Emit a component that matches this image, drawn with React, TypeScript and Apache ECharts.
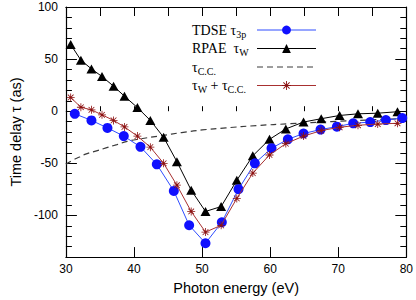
import React, { useEffect, useRef } from "react";
import * as echarts from "echarts";

// Photon energies (eV) for RPAE tau_W and tau_W + tau_CC
const energyW = [30.7, 32.2, 33.75, 35.3, 37.0, 38.6, 40.5, 42.4, 44.35, 46.3, 48.4, 50.5, 52.8, 55.1, 57.45, 59.9, 62.3, 64.9, 67.5, 70.2, 72.9, 75.8, 78.7];
const rpaeTauW = [64, 49, 40.6, 33.3, 24, 14.4, 3.5, -8.8, -25, -48.4, -75.8, -96.2, -91.5, -66.3, -42.8, -27, -17, -10.4, -7.2, -4.1, -2.5, -1.9, -0.5];
const tauWplusCC = [13.2, 3.8, 1.3, -3.5, -8.8, -15.1, -23.9, -34.5, -50, -71, -96.2, -116, -109.5, -83.7, -59.4, -42, -31.1, -23.9, -18.6, -15.4, -13.5, -12.3, -11.6];

// Photon energies (eV) for TDSE tau_3p
const energyTDSE = [31.3, 33.75, 36.1, 38.5, 40.95, 43.35, 45.85, 48.1, 50.5, 52.9, 55.35, 57.75, 60.2, 62.6, 64.9, 67.4, 69.8, 72.2, 74.7, 77.0, 79.4];
const tdseTau3p = [-2.5, -8.8, -16, -23.9, -34.2, -51, -76.5, -109.4, -126.7, -106.6, -74.8, -50, -35.5, -27, -21.4, -17.6, -14.8, -11.6, -10.4, -8.5, -6.6];

// tau_CC curve samples
const energyCC = [30, 31, 32, 33, 34.5, 36, 37.5, 39, 41, 44, 47, 50, 53.5, 58, 63, 69, 74, 80];
const tauCC = [-51, -47, -44, -41, -38, -35, -32, -29, -26.5, -23.5, -20.5, -18, -16, -13.8, -12, -10, -8.5, -7];

const yMajorTicks = [-100, -50, 0, 50, 100];
const seriesNames = ["TDSE", "RPAE", "CC", "WCC"];

const zip = (xs: number[], ys: number[]) => xs.map((x, i) => [x, ys[i]]);

const starPath =
  "path://M-0.5,-5L0.5,-5L0.5,5L-0.5,5Z M-5,-0.5L5,-0.5L5,0.5L-5,0.5Z M-3.9,-3.2L-3.2,-3.9L3.9,3.2L3.2,3.9Z M3.2,-3.9L3.9,-3.2L-3.2,3.9L-3.9,3.2Z";

export default function App() {
  const ref = useRef<HTMLDivElement>(null);
  useEffect(() => {
    if (!ref.current) return;
    const chart = echarts.init(ref.current, undefined, { renderer: "svg" });
    const sans = "Liberation Sans";
    const serif = "Liberation Serif";
    const axisBase = {
      type: "value" as const,
      splitLine: { show: false },
      axisLine: { show: true, onZero: false, lineStyle: { color: "#000", width: 1.2 } },
    };
    chart.setOption({
      animation: false,
      backgroundColor: "#fff",
      grid: { left: 57, right: 8, top: 7, bottom: 38 },
      legend: {
        left: 187,
        top: 18,
        orient: "vertical",
        align: "right",
        itemWidth: 59,
        itemHeight: 11,
        itemGap: 2.5,
        lineStyle: { width: 1 },
        data: [
          { name: "TDSE" },
          { name: "RPAE" },
          { name: "CC", itemStyle: { opacity: 0 } },
          { name: "WCC" },
        ],
        formatter: (name: string) => {
          if (name === seriesNames[0]) return "{a|TDSE τ}{s|3p}";
          if (name === seriesNames[1]) return "{a|RPAE  τ}{s|W}";
          if (name === seriesNames[2]) return "{a|τ}{s|C.C.}";
          return "{a|τ}{s|W}{a| + τ}{s|C.C.}";
        },
        textStyle: {
          width: 60,
          fontFamily: serif,
          fontSize: 14,
          color: "#000",
          rich: {
            a: { fontFamily: serif, fontSize: 14, lineHeight: 18, color: "#000", align: "left" },
            s: { fontFamily: serif, fontSize: 10, lineHeight: 18, verticalAlign: "bottom", color: "#000", align: "left" },
          },
        },
      },
      xAxis: [
        {
          ...axisBase,
          position: "bottom",
          min: 30,
          max: 80,
          interval: 10,
          name: "Photon energy (eV)",
          nameLocation: "middle",
          nameGap: 22,
          nameTextStyle: { fontFamily: sans, fontSize: 14.5, color: "#000" },
          axisTick: { show: true, inside: true, length: 10, lineStyle: { color: "#000" } },
          axisLabel: { fontFamily: sans, fontSize: 12, color: "#000", margin: 6 },
        },
        {
          ...axisBase,
          position: "bottom",
          min: 30,
          max: 80,
          interval: 5,
          axisLine: { show: false },
          axisTick: { show: true, inside: true, length: 5, lineStyle: { color: "#000" } },
          axisLabel: { show: false },
        },
        {
          ...axisBase,
          position: "top",
          min: 30,
          max: 80,
          interval: 5,
          axisTick: { show: true, inside: true, length: 9, lineStyle: { color: "#000" } },
          axisLabel: { show: false },
        },
      ],
      yAxis: [
        {
          ...axisBase,
          position: "left",
          min: -140,
          max: 100,
          interval: 10,
          name: "Time delay τ (as)",
          nameLocation: "middle",
          nameGap: 35,
          nameTextStyle: { fontFamily: sans, fontSize: 14.5, color: "#000" },
          axisTick: { show: true, inside: true, length: 11, customValues: yMajorTicks, lineStyle: { color: "#000" } },
          axisLabel: { fontFamily: sans, fontSize: 12, color: "#000", margin: 8, customValues: yMajorTicks },
        },
        {
          ...axisBase,
          position: "left",
          min: -140,
          max: 100,
          interval: 10,
          axisLine: { show: false },
          axisTick: { show: true, inside: true, length: 6, lineStyle: { color: "#000" } },
          axisLabel: { show: false },
        },
        {
          ...axisBase,
          position: "right",
          min: -140,
          max: 100,
          interval: 10,
          axisTick: { show: true, inside: true, length: 11, customValues: yMajorTicks, lineStyle: { color: "#000" } },
          axisLabel: { show: false },
        },
        {
          ...axisBase,
          position: "right",
          min: -140,
          max: 100,
          interval: 10,
          axisLine: { show: false },
          axisTick: { show: true, inside: true, length: 6, lineStyle: { color: "#000" } },
          axisLabel: { show: false },
        },
      ],
      series: [
        {
          name: "CC",
          type: "line",
          smooth: true,
          symbol: "none",
          data: zip(energyCC, tauCC),
          lineStyle: { color: "#3a3a3a", width: 1.2, type: [6, 4] },
          itemStyle: { color: "#3a3a3a" },
          z: 1,
        },
        {
          name: "RPAE",
          type: "line",
          symbol: "triangle",
          symbolSize: [10, 9],
          data: zip(energyW, rpaeTauW),
          lineStyle: { color: "#000", width: 1 },
          itemStyle: { color: "#000" },
          z: 2,
        },
        {
          name: "TDSE",
          type: "line",
          symbol: "circle",
          symbolSize: 10,
          data: zip(energyTDSE, tdseTau3p),
          lineStyle: { color: "#2f4dff", width: 1 },
          itemStyle: { color: "#1010ff" },
          z: 3,
        },
        {
          name: "WCC",
          type: "line",
          symbol: starPath,
          symbolSize: 8,
          data: zip(energyW, tauWplusCC),
          lineStyle: { color: "#a83030", width: 1 },
          itemStyle: { color: "#8b1010" },
          z: 4,
        },
      ],
    });
    return () => chart.dispose();
  }, []);
  return (
    <div
      ref={ref}
      style={{ position: "absolute", left: 0, top: 0, width: 416, height: 300 }}
    />
  );
}
